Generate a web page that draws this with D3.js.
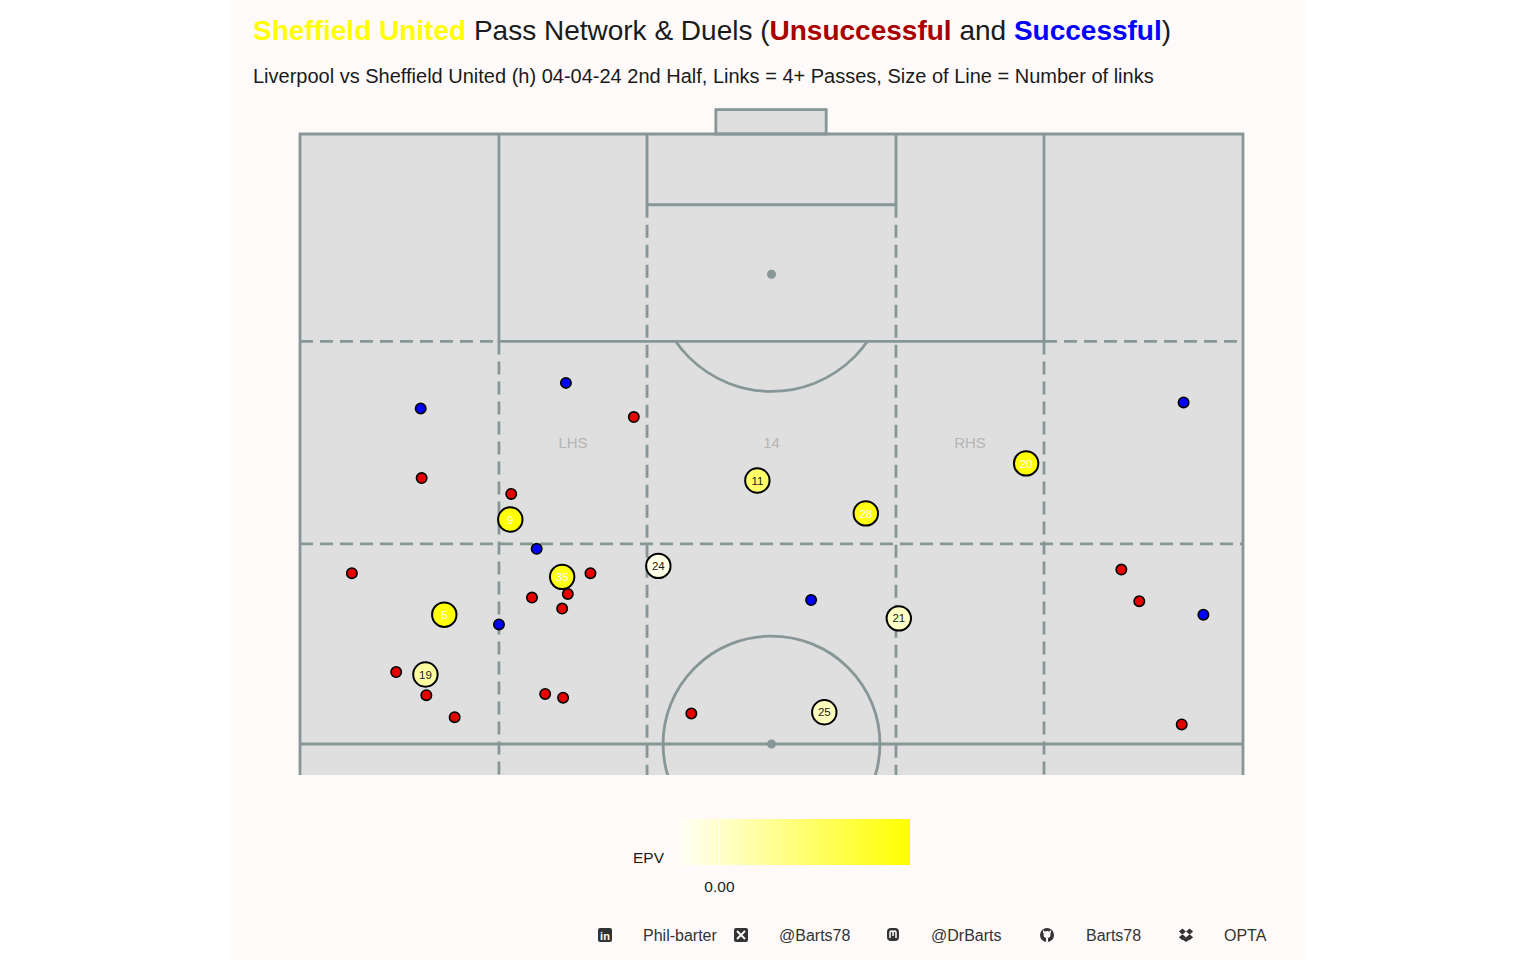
<!DOCTYPE html>
<html lang="en">
<head>
    <meta charset="UTF-8">
    <title>Pass Network & Duels</title>
    <script src="https://d3js.org/d3.v7.min.js"></script>
    <style>
        body { margin: 0; background: #ffffff; }
        svg text { font-family: "Liberation Sans", Arial, sans-serif; }
        .pitch-line { stroke: #879696; stroke-width: 2.8px; fill: none; }
        .dash { stroke-dasharray: 13 7; }
        .zone { fill: #b5b5b5; font-size: 15px; text-anchor: middle; }
        .foot { fill: #333333; font-size: 16px; }
    </style>
</head>
<body>
<svg id="chart" width="1536" height="960"></svg>
<script>
    // players: average position (width 0-100, length 50-100), shirt number, EPV
    let playerNums = ["9", "35", "5", "19", "24", "11", "28", "20", "21", "25"];
    let playerW = [22.3, 27.8, 15.3, 13.3, 38.0, 48.5, 60.0, 77.0, 63.5, 55.6];
    let playerL = [68.4, 63.7, 60.6, 55.7, 64.6, 71.6, 68.9, 73.0, 60.3, 52.6];
    let playerEpv = [0.029, 0.026, 0.028, 0.006, -0.004, 0.014, 0.027, 0.029, 0.001, 0.002];

    // duels
    let wonW = [28.2, 12.8, 25.1, 21.1, 54.2, 93.7, 95.8];
    let wonL = [79.6, 77.5, 66.0, 59.8, 61.8, 78.0, 60.6];
    let lostW = [35.4, 12.9, 22.4, 5.5, 30.8, 24.6, 28.4, 27.8, 10.2, 13.4, 16.4, 26.0, 27.9, 41.5, 87.1, 89.0, 93.5];
    let lostL = [76.8, 71.8, 70.5, 64.0, 64.0, 62.0, 62.3, 61.1, 55.9, 54.0, 52.2, 54.1, 53.8, 52.5, 64.3, 61.7, 51.6];

    let zoneLabels = ["LHS", "14", "RHS"];
    let zoneW = [28.95, 50, 71.05];
    let zoneL = 74.7;

    let epvDomain = [-0.006, 0.029];
    let epvTicks = [0];

    let footerItems = ["Phil-barter", "@Barts78", "@DrBarts", "Barts78", "OPTA"];
    let footerIcons = ["linkedin", "x", "mastodon", "github", "dropbox"];

    let svg = d3.select("#chart");
    svg.append("rect").attr("x", 231).attr("y", 0).attr("width", 1074).attr("height", 960).attr("fill", "#fffafa");

    let x = d3.scaleLinear().domain([0, 100]).range([300, 1243]);
    let y = d3.scaleLinear().domain([50, 100]).range([744, 134]);
    let bottom = 47.46;

    let color = d3.scaleLinear().domain(epvDomain).range(["#fffff6", "#ffff00"]);

    // titles
    let title = svg.append("text").attr("x", 253).attr("y", 40).style("font-size", "28px").attr("fill", "#1a1a1a");
    title.append("tspan").text("Sheffield United").attr("fill", "#ffff00").attr("font-weight", "bold");
    title.append("tspan").text(" Pass Network & Duels (");
    title.append("tspan").text("Unsuccessful").attr("fill", "#a80000").attr("font-weight", "bold");
    title.append("tspan").text(" and ");
    title.append("tspan").text("Successful").attr("fill", "#0000ff").attr("font-weight", "bold");
    title.append("tspan").text(")");

    svg.append("text").attr("x", 253).attr("y", 83).style("font-size", "20px").attr("fill", "#1a1a1a")
        .text("Liverpool vs Sheffield United (h) 04-04-24 2nd Half, Links = 4+ Passes, Size of Line = Number of links");

    // pitch
    let pitch = svg.append("g");
    svg.append("clipPath").attr("id", "pclip").append("rect")
        .attr("x", x(0)).attr("y", y(100)).attr("width", x(100) - x(0)).attr("height", y(bottom) - y(100));
    svg.append("clipPath").attr("id", "arcclip").append("rect")
        .attr("x", x(0)).attr("y", y(83)).attr("width", x(100) - x(0)).attr("height", y(bottom) - y(83));

    pitch.append("rect").attr("x", x(0)).attr("y", y(100)).attr("width", x(100) - x(0))
        .attr("height", y(bottom) - y(100)).attr("fill", "#dfdfdf");
    pitch.append("rect").attr("class", "pitch-line")
        .attr("x", x(44.1)).attr("y", y(102)).attr("width", x(55.8) - x(44.1)).attr("height", y(100) - y(102))
        .style("fill", "#dfdfdf");

    let line = d3.line().x(d => x(d[0])).y(d => y(d[1]));
    function seg(pts, dashed) {
        pitch.append("path").attr("class", dashed ? "pitch-line dash" : "pitch-line").attr("d", line(pts));
    }
    // outline
    seg([[0, bottom], [0, 100], [100, 100], [100, bottom]]);
    seg([[0, 50], [100, 50]]);
    // boxes
    seg([[21.1, 100], [21.1, 83], [78.9, 83], [78.9, 100]]);
    seg([[36.8, 100], [36.8, 94.2], [63.2, 94.2], [63.2, 100]]);
    // zone lines
    seg([[21.1, 83], [21.1, bottom]], true);
    seg([[78.9, 83], [78.9, bottom]], true);
    seg([[36.8, 94.2], [36.8, bottom]], true);
    seg([[63.2, 94.2], [63.2, bottom]], true);
    seg([[0, 83], [21.1, 83]], true);
    seg([[78.9, 83], [100, 83]], true);
    seg([[0, 66.4], [100, 66.4]], true);

    // arcs and spots
    pitch.append("ellipse").attr("class", "pitch-line").attr("clip-path", "url(#arcclip)")
        .attr("cx", x(50)).attr("cy", y(88.5)).attr("rx", x(12.4) - x(0)).attr("ry", y(88.5) - y(98.1));
    pitch.append("ellipse").attr("class", "pitch-line").attr("clip-path", "url(#pclip)")
        .attr("cx", x(50)).attr("cy", y(50)).attr("rx", x(11.5) - x(0)).attr("ry", y(50) - y(58.85));
    pitch.selectAll("circle.spot").data([[50, 88.5], [50, 50]]).join("circle").attr("class", "spot")
        .attr("cx", d => x(d[0])).attr("cy", d => y(d[1])).attr("r", 4.5).attr("fill", "#879696");

    pitch.selectAll("text.zone").data(zoneLabels).join("text").attr("class", "zone")
        .attr("x", (d, i) => x(zoneW[i])).attr("y", y(zoneL) + 5).text(d => d);

    // duels
    let duels = [];
    lostW.forEach((w, i) => duels.push({w: w, l: lostL[i], c: "#e60000"}));
    wonW.forEach((w, i) => duels.push({w: w, l: wonL[i], c: "#0000ff"}));
    svg.append("g").selectAll("circle").data(duels).join("circle")
        .attr("cx", d => x(d.w)).attr("cy", d => y(d.l)).attr("r", 5.2)
        .attr("fill", d => d.c).attr("stroke", "#000").attr("stroke-width", 1.6);

    // players
    let players = playerNums.map((n, i) => ({n: n, w: playerW[i], l: playerL[i], epv: playerEpv[i]}));
    let pg = svg.append("g").selectAll("g").data(players).join("g")
        .attr("transform", d => `translate(${x(d.w)},${y(d.l)})`);
    pg.append("circle").attr("r", 12.2).attr("fill", d => color(d.epv)).attr("stroke", "#000").attr("stroke-width", 2);
    pg.append("text").attr("text-anchor", "middle").attr("dy", "0.36em").style("font-size", "11.5px")
        .attr("fill", d => (d.epv - epvDomain[0]) / (epvDomain[1] - epvDomain[0]) > 0.75 ? "#ffffff" : "#1a1a1a")
        .text(d => d.n);

    // legend
    let defs = svg.append("defs");
    let grad = defs.append("linearGradient").attr("id", "epvgrad");
    d3.range(0, 1.01, 0.1).forEach(t => {
        grad.append("stop").attr("offset", t).attr("stop-color", color(epvDomain[0] + t * (epvDomain[1] - epvDomain[0])));
    });
    let lx = d3.scaleLinear().domain(epvDomain).range([680, 910]);
    svg.append("rect").attr("x", 680).attr("y", 819).attr("width", 230).attr("height", 46).attr("fill", "url(#epvgrad)");
    svg.append("text").attr("x", 633).attr("y", 863).style("font-size", "15.5px").attr("fill", "#1a1a1a").text("EPV");
    epvTicks.forEach(t => {
        svg.append("line").attr("x1", lx(t)).attr("x2", lx(t)).attr("y1", 819).attr("y2", 865)
            .attr("stroke", "#ffffff").attr("stroke-width", 1);
        svg.append("text").attr("x", lx(t)).attr("y", 892).attr("text-anchor", "middle").style("font-size", "15.5px")
            .attr("fill", "#1a1a1a").text(d3.format(".2f")(t));
    });

    // footer
    let iconX = [605, 741, 893, 1047, 1186];
    let textX = [643, 779, 931, 1086, 1224];
    let fy = 935;
    footerItems.forEach((t, i) => {
        svg.append("text").attr("class", "foot").attr("x", textX[i]).attr("y", fy + 6).text(t);
        let g = svg.append("g").attr("transform", `translate(${iconX[i]},${fy})`);
        let kind = footerIcons[i];
        if (kind === "linkedin" || kind === "x") {
            g.append("rect").attr("x", -7).attr("y", -7).attr("width", 14).attr("height", 14).attr("rx", 2).attr("fill", "#333");
            if (kind === "linkedin") {
                g.append("text").attr("text-anchor", "middle").attr("y", 5).attr("fill", "#fff")
                    .style("font-size", "11px").style("font-weight", "bold").text("in");
            } else {
                g.append("path").attr("d", "M-4,-4L4,4M4,-4L-4,4").attr("stroke", "#fff").attr("stroke-width", 1.8);
            }
        } else if (kind === "mastodon") {
            g.append("rect").attr("x", -6).attr("y", -7).attr("width", 12).attr("height", 13).attr("rx", 4).attr("fill", "#333");
            g.append("path").attr("d", "M-3,3V-2Q-3,-4 -1.5,-4Q0,-4 0,-2V1M0,-2Q0,-4 1.5,-4Q3,-4 3,-2V3")
                .attr("stroke", "#fff").attr("stroke-width", 1.5).attr("fill", "none");
        } else if (kind === "github") {
            g.append("circle").attr("r", 7).attr("fill", "#333");
            g.append("path").attr("d", "M-3.5,-0.5Q-3.5,-4 0,-4Q3.5,-4 3.5,-0.5Q3.5,2.5 1,3V7H-1V3Q-3.5,2.5 -3.5,-0.5Z").attr("fill", "#fffafa");
            g.append("path").attr("d", "M-3.5,-4.5L-3,-2M3.5,-4.5L3,-2").attr("stroke", "#fffafa").attr("stroke-width", 1.4);
        } else {
            let dia = "M0,-3L3.5,0L0,3L-3.5,0Z";
            [[-3.6, -3.4], [3.6, -3.4], [-3.6, 2.2], [3.6, 2.2]].forEach(p => {
                g.append("path").attr("d", dia).attr("transform", `translate(${p[0]},${p[1]})`).attr("fill", "#333");
            });
            g.append("path").attr("d", "M0,4L3.5,6.5L0,9L-3.5,6.5Z").attr("transform", "translate(0,-2)").attr("fill", "#333");
        }
    });
</script>
</body>
</html>
